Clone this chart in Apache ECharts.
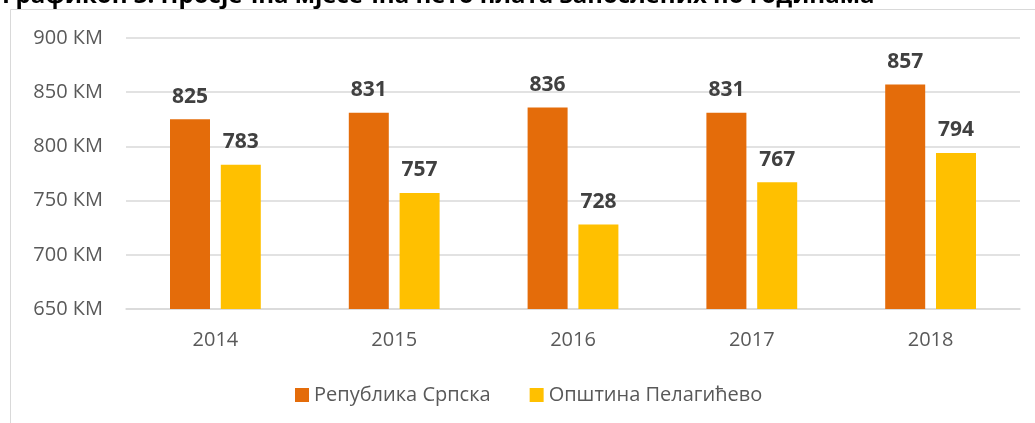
<!DOCTYPE html>
<html>
<head>
<meta charset="utf-8">
<script src="https://cdn.jsdelivr.net/npm/echarts@6/dist/echarts.min.js"></script>
<style>
  html, body { margin: 0; padding: 0; background: #fff; }
  #chart { width: 1035px; height: 423px; }
</style>
</head>
<body>
<div id="chart"></div>
<script>
// podaci
const years = ['2014', '2015', '2016', '2017', '2018']
const republikaSrpska = [825, 831, 836, 831, 857]
const pelagicevo = [783, 757, 728, 767, 794]
const seriesNames = ['Република Српска', 'Општина Пелагићево']

const font = 'Open Sans'

const chart = echarts.init(document.getElementById('chart'))
chart.setOption({
  animation: false,
  title: {
    text: 'Графикон 3: Просјечна мјесечна нето плата запослених по годинама',
    left: -3,
    top: -21,
    textStyle: {
      fontFamily: font,
      fontSize: 24,
      fontWeight: 'bold',
      color: '#000'
    }
  },
  graphic: [{
    // okvir grafikona
    type: 'rect',
    z: -1,
    shape: { x: 10.5, y: 9.5, width: 1100, height: 500 },
    style: { fill: 'none', stroke: '#d9d9d9', lineWidth: 1 }
  }],
  legend: {
    bottom: 13,
    left: 290,
    itemWidth: 14,
    itemHeight: 14,
    itemGap: 39,
    icon: 'rect',
    textStyle: { fontFamily: font, fontSize: 20, color: '#595959' },
    data: seriesNames
  },
  grid: {
    left: 126,
    right: 15,
    top: 38,
    bottom: 114
  },
  xAxis: {
    type: 'category',
    data: years,
    axisTick: { show: false },
    axisLine: { lineStyle: { color: '#d9d9d9', width: 1.5 } },
    axisLabel: { margin: 21, fontFamily: font, fontSize: 20, color: '#595959' }
  },
  yAxis: {
    type: 'value',
    min: 650,
    max: 900,
    interval: 50,
    axisLine: { show: false },
    axisTick: { show: false },
    splitLine: { lineStyle: { color: '#d9d9d9', width: 1.5 } },
    axisLabel: {
      margin: 23,
      fontFamily: font,
      fontSize: 20,
      color: '#595959',
      formatter: v => v + ' КМ'
    }
  },
  series: [
    {
      name: seriesNames[0],
      type: 'bar',
      data: republikaSrpska,
      barWidth: 40,
      barGap: '27%',
      itemStyle: { color: '#e46c0a' },
      label: {
        show: true,
        position: 'top',
        distance: 12,
        fontFamily: font,
        fontSize: 21,
        fontWeight: 'bold',
        color: '#404040'
      }
    },
    {
      name: seriesNames[1],
      type: 'bar',
      data: pelagicevo,
      barWidth: 40,
      itemStyle: { color: '#ffc000' },
      label: {
        show: true,
        position: 'top',
        distance: 12,
        fontFamily: font,
        fontSize: 21,
        fontWeight: 'bold',
        color: '#404040'
      }
    }
  ]
})
</script>
</body>
</html>
